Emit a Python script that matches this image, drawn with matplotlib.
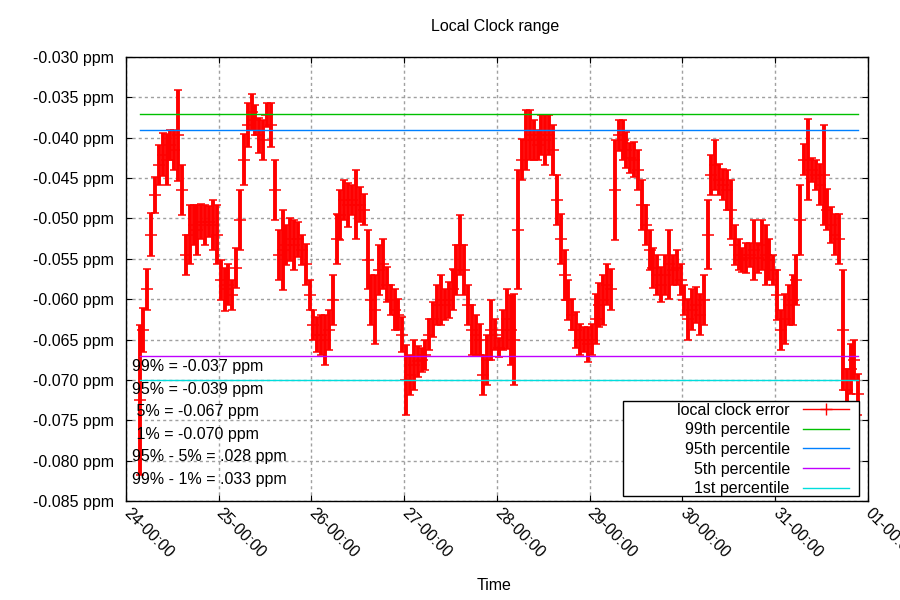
import numpy as np
import pandas as pd
import matplotlib
matplotlib.use("Agg")
import matplotlib.pyplot as plt
import matplotlib.dates as mdates
from matplotlib.lines import Line2D
from matplotlib.patches import Rectangle
from matplotlib.ticker import FuncFormatter, MultipleLocator

plt.rcParams["font.family"] = ["Liberation Sans", "DejaVu Sans"]

# ============================================
# DATA (hourly samples, values in ppb)
# ============================================

start_time = "2016-07-24 03:30"

clock_err_ppb = [
    -72.5, -63.8, -58.8, -52.0, -47.1, -43.4, -42.1, -42.7, -40.9, -41.5,
    -39.7, -46.5, -54.5, -52.0, -50.8, -51.4, -50.4, -50.8, -50.4, -50.8,
    -52.0, -57.6, -58.8, -58.2, -59.5,
    -56.1, -50.2, -42.7, -38.4, -36.8, -37.8, -39.7, -40.3, -37.2, -38.4,
    -46.5, -54.5, -53.9, -53.3, -52.6, -53.3, -52.6, -53.9, -55.7, -59.5,
    -63.2, -64.4, -64.4, -65.0, -63.8, -60.1, -52.6,
    -49.6, -47.7, -48.3, -47.7, -48.3, -48.3, -48.9, -55.1, -60.1, -61.3,
    -56.4, -55.7, -58.2, -60.1, -61.3, -61.9, -64.4, -70.0, -69.4, -68.1,
    -67.7, -67.5, -66.9, -64.4, -62.5, -60.7, -60.1, -60.7,
    -60.1, -58.8, -56.4, -53.3, -56.4, -60.7, -63.8, -64.4, -65.0, -69.4,
    -67.5, -63.8, -64.4, -66.0, -63.8, -62.5, -63.8, -65.0, -51.4, -42.7,
    -40.3, -39.7, -40.3, -40.9, -39.7, -40.3, -39.7,
    -41.5, -47.7, -52.6, -57.0, -60.1, -61.9, -63.8, -65.0, -65.0, -65.6,
    -65.0, -62.5, -60.7, -60.1, -58.2, -58.8, -46.5, -39.7, -40.3, -41.5,
    -42.5, -42.7, -44.0, -48.3, -50.8, -53.9, -56.1,
    -57.0, -58.2, -57.0, -55.7, -56.4, -56.1, -57.6, -60.1, -62.5, -61.3,
    -60.7, -61.9, -60.1, -52.0, -44.6, -43.4, -45.2, -45.8, -46.5, -48.9,
    -53.3, -54.5, -55.1, -54.9, -54.5, -53.9, -54.9,
    -53.3, -54.5, -55.1, -56.4, -59.5, -63.8, -62.5, -60.7, -60.1, -57.6,
    -50.2, -42.7, -42.7, -44.0, -44.6, -45.8, -44.6, -48.9, -50.8, -52.0,
    -52.6, -63.8, -71.2, -68.7, -67.5, -71.8,
]

# half of the min..max range seen in each sample
clock_range_ppb = [
    9.3, 2.7, 2.5, 2.7, 2.2, 2.5, 2.7, 3.1, 1.9, 2.5,
    5.6, 3.1, 2.5, 3.7, 2.5, 3.1, 2.2, 2.5, 1.9, 3.1,
    3.7, 2.5, 2.7, 2.5, 1.9,
    2.5, 3.7, 3.1, 2.7, 2.2, 1.9, 2.2, 2.5, 1.5, 2.7,
    3.7, 3.1, 5.0, 2.5, 2.7, 3.1, 2.2, 1.9, 2.5, 1.9,
    1.9, 2.2, 2.5, 3.1, 2.5, 3.1, 3.1,
    3.1, 2.5, 2.7, 1.9, 4.3, 2.2, 1.9, 3.7, 3.1, 4.3,
    3.1, 3.1, 2.2, 1.9, 2.5, 1.9, 2.2, 4.3, 2.5, 3.1,
    1.9, 1.5, 1.9, 1.9, 2.2, 2.5, 3.1, 1.9,
    2.2, 2.5, 3.1, 3.7, 3.1, 2.5, 3.1, 2.5, 1.9, 2.5,
    3.1, 3.7, 1.9, 1.2, 2.5, 3.7, 4.3, 5.6, 7.4, 2.5,
    3.7, 3.1, 2.5, 1.9, 2.5, 3.1, 2.5,
    3.1, 3.1, 3.1, 3.1, 2.5, 1.9, 2.2, 1.9, 1.5, 2.2,
    1.9, 3.1, 2.7, 3.1, 2.5, 2.5, 6.2, 1.9, 2.5, 2.2,
    1.9, 2.2, 2.5, 3.1, 2.5, 2.5, 2.5,
    2.5, 2.2, 2.5, 4.3, 1.9, 2.2, 1.9, 1.9, 2.5, 2.5,
    2.2, 2.5, 3.1, 4.3, 2.5, 3.1, 1.9, 1.9, 2.5, 3.7,
    2.5, 1.9, 1.5, 1.9, 1.5, 3.7, 1.9,
    3.1, 3.7, 2.5, 1.9, 3.1, 2.5, 3.1, 2.5, 3.1, 3.1,
    4.3, 1.9, 5.0, 1.5, 1.9, 2.5, 6.2, 2.5, 2.2, 2.5,
    3.1, 7.4, 2.5, 3.1, 2.5, 2.5,
]

pct_labels = ["99th percentile", "95th percentile", "5th percentile", "1st percentile"]
pct_values = [-0.037, -0.039, -0.067, -0.070]
pct_colors = ["#00c000", "#0080ff", "#c000ff", "#00dddd"]

stats_lines = [
    "99% = -0.037 ppm",
    "95% = -0.039 ppm",
    " 5% = -0.067 ppm",
    " 1% = -0.070 ppm",
    "95% - 5% = .028 ppm",
    "99% - 1% = .033 ppm",
]

times = pd.date_range(start_time, periods=len(clock_err_ppb), freq="h").to_numpy()
clock_err = np.array(clock_err_ppb) / 1000.0
clock_range = np.array(clock_range_ppb) / 1000.0

# ============================================
# PLOT
# ============================================

fig = plt.figure(figsize=(9, 6), dpi=100)
ax = fig.add_axes([0.14, 0.165, 0.8244, 0.74])

ax.errorbar(times, clock_err, yerr=clock_range, fmt="+", color="red",
            ecolor="red", elinewidth=2.8, capsize=3.2, capthick=1.1,
            markersize=8, markeredgewidth=1.1, zorder=2)

for val, col in zip(pct_values, pct_colors):
    ax.plot([times[0], times[-1]], [val, val], color=col, lw=1, zorder=3)

ax.set_xlim(np.datetime64("2016-07-24T00:00"), np.datetime64("2016-08-01T00:00"))
ax.set_ylim(-0.085, -0.030)

ax.yaxis.set_major_locator(MultipleLocator(0.005))
ax.yaxis.set_major_formatter(FuncFormatter(lambda v, p: f"{v:.3f} ppm"))
ax.xaxis.set_major_locator(mdates.DayLocator())
ax.xaxis.set_major_formatter(mdates.DateFormatter("%d-%H:%M"))

ax.grid(True, color="#a0a0a0", linestyle=(0, (2.2, 2.2)), lw=1)
ax.tick_params(direction="in", top=True, right=True, length=4.5,
               labelsize=11.5, colors="black")
ax.tick_params(axis="y", pad=9)
ax.tick_params(axis="x", pad=7)
for lab in ax.get_xticklabels():
    lab.set_rotation(-45)
    lab.set_ha("left")
    lab.set_va("center")
    lab.set_rotation_mode("anchor")
for sp in ax.spines.values():
    sp.set_linewidth(1)

# stats text block
for i, line in enumerate(stats_lines):
    ax.text(0.008, 0.302 - i * 0.0505, line, transform=ax.transAxes,
            fontsize=11.5, ha="left", va="center", zorder=4)

# legend
handles = [Line2D([], [], color="red", marker="+", markersize=8, lw=1)]
handles += [Line2D([], [], color=c, lw=1) for c in pct_colors]
labels = ["local clock error"] + pct_labels
ax.add_patch(Rectangle((0.670, 0.0113), 0.318, 0.214, transform=ax.transAxes,
                       facecolor="white", edgecolor="black", lw=1, zorder=5))
leg = ax.legend(handles, labels, loc="lower right", bbox_to_anchor=(0.9744, 0.0105),
                frameon=False, markerfirst=False, fontsize=11.5, borderpad=0,
                borderaxespad=0, labelspacing=0.29, handlelength=2.9,
                handletextpad=0.8)
leg.set_zorder(6)

fig.text(0.55, 1 - 27 / 600, "Local Clock range", ha="center", va="center", fontsize=11.5)
fig.text(0.549, 1 - 585 / 600, "Time", ha="center", va="center", fontsize=11.5)

fig.savefig("out.png", dpi=100)
print("saved out.png")
